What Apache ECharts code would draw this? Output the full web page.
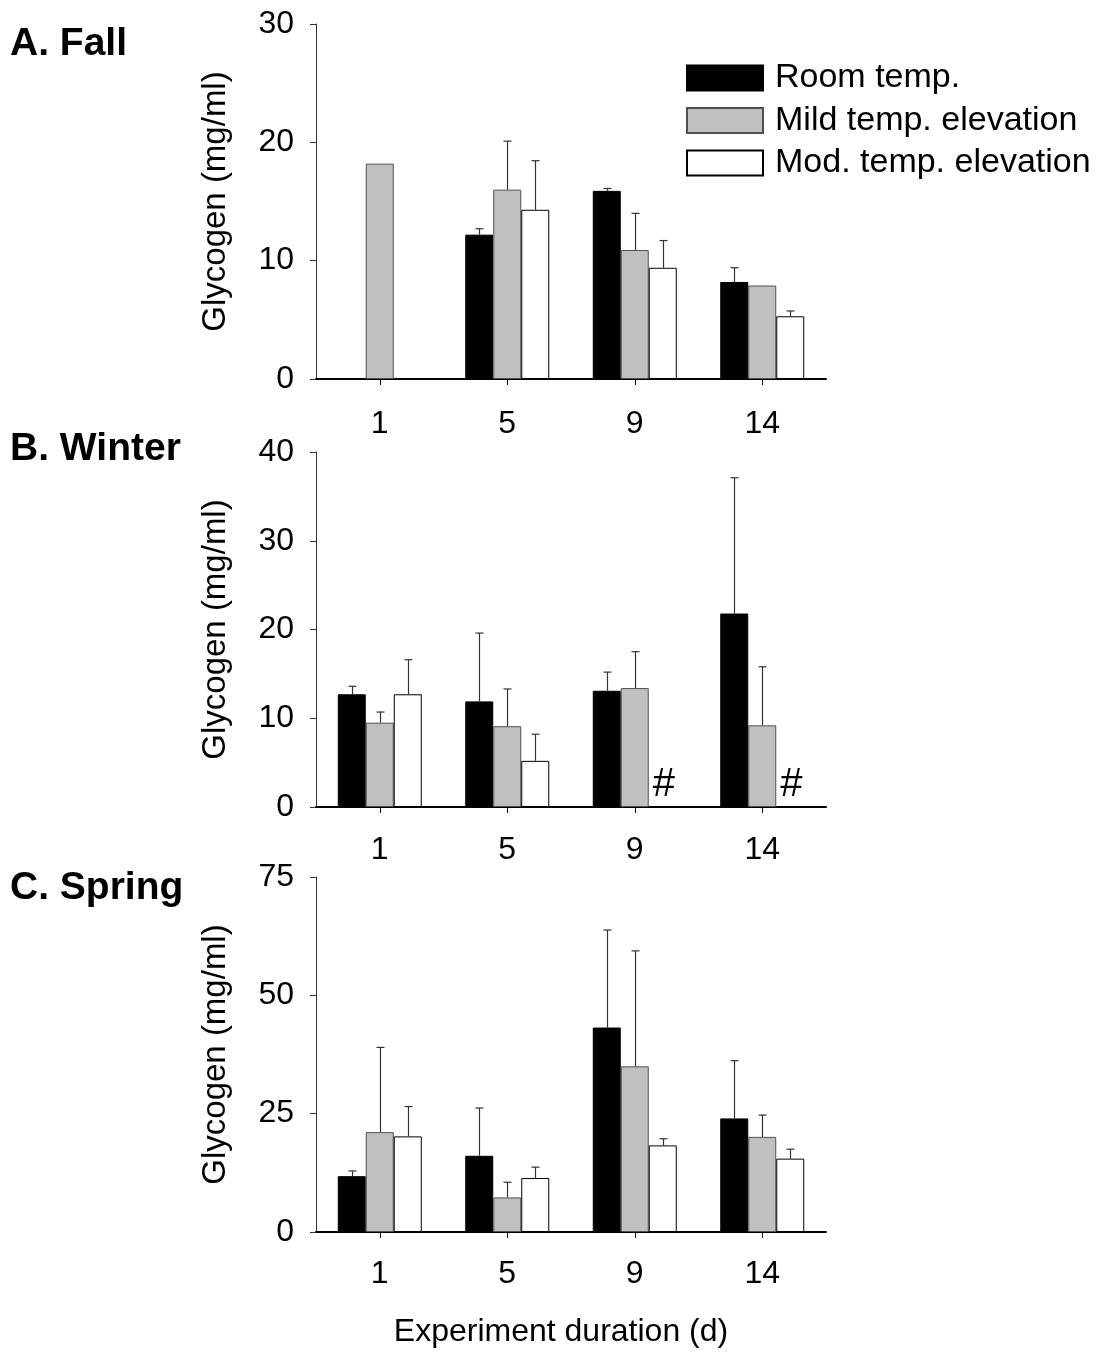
<!DOCTYPE html>
<html><head><meta charset="utf-8">
<script src="https://cdn.jsdelivr.net/npm/echarts@6/dist/echarts.min.js"></script>
<style>html,body{margin:0;padding:0;background:#fff}#c{width:1096px;height:1357px}</style>
</head><body><div id="c"></div>
<script>
// ---- data ----
const days = ['1', '5', '9', '14'];
const seriesNames = ['Room temp.', 'Mild temp. elevation', 'Mod. temp. elevation'];
const panelTitles = ['A. Fall', 'B. Winter', 'C. Spring'];

const fallRoom = [null, 12.2, 15.9, 8.2];
const fallRoomErr = [null, 0.5, 0.2, 1.2];
const fallMild = [18.2, 16.0, 10.9, 7.9];
const fallMildErr = [null, 4.1, 3.1, null];
const fallMod = [null, 14.3, 9.4, 5.3];
const fallModErr = [null, 4.15, 2.3, 0.45];

const winterRoom = [12.7, 11.9, 13.1, 21.8];
const winterRoomErr = [0.9, 7.7, 2.1, 15.3];
const winterMild = [9.5, 9.1, 13.4, 9.2];
const winterMildErr = [1.2, 4.2, 4.1, 6.6];
const winterMod = [12.7, 5.2, null, null];
const winterModErr = [3.9, 3.0, null, null];
const winterModMarks = ['', '', '#', '#'];

const springRoom = [11.8, 16.1, 43.2, 24.0];
const springRoomErr = [1.1, 10.1, 20.6, 12.2];
const springMild = [21.1, 7.3, 35.0, 20.1];
const springMildErr = [17.9, 3.2, 24.4, 4.6];
const springMod = [20.2, 11.4, 18.3, 15.5];
const springModErr = [6.3, 2.3, 1.4, 2.0];

const fallTicks = [0, 10, 20, 30];
const winterTicks = [0, 10, 20, 30, 40];
const springTicks = [0, 25, 50, 75];

// ---- layout / style ----
const FONT = '"Liberation Sans", Arial, Helvetica, sans-serif';
const BAR_W = 28;
const gridTops = [24, 452, 877];
const gridH = 355;
const panels = [
  {vals: [fallRoom, fallMild, fallMod], errs: [fallRoomErr, fallMildErr, fallModErr], ticks: fallTicks},
  {vals: [winterRoom, winterMild, winterMod], errs: [winterRoomErr, winterMildErr, winterModErr], ticks: winterTicks, marks: winterModMarks},
  {vals: [springRoom, springMild, springMod], errs: [springRoomErr, springMildErr, springModErr], ticks: springTicks}
];
const barStyles = [
  {color: '#000000', borderColor: '#000000', borderWidth: 1},
  {color: '#c0c0c0', borderColor: '#505050', borderWidth: 1},
  {color: '#ffffff', borderColor: '#000000', borderWidth: 1}
];

const grid = [], xAxis = [], yAxis = [], series = [];
panels.forEach((p, i) => {
  grid.push({left: 316, top: gridTops[i], width: 510, height: gridH, containLabel: false});
  xAxis.push({
    type: 'category', gridIndex: i, data: days,
    axisLine: {show: true, lineStyle: {color: '#000', width: 2}},
    axisTick: {show: true, alignWithLabel: true, length: 6, lineStyle: {color: '#000', width: 1}},
    axisLabel: {fontFamily: FONT, fontSize: 32, color: '#000', margin: i === 1 ? 27 : (i === 2 ? 26 : 29)},
    splitLine: {show: false}
  });
  const t = p.ticks;
  yAxis.push({
    type: 'value', gridIndex: i, min: t[0], max: t[t.length - 1], interval: t[1] - t[0],
    name: 'Glycogen (mg/ml)', nameLocation: 'middle', nameRotate: 90, nameGap: 84,
    nameTextStyle: {fontFamily: FONT, fontSize: 33, color: '#000'},
    axisLine: {show: true, lineStyle: {color: '#333', width: 1}},
    axisTick: {show: true, length: 6, lineStyle: {color: '#333', width: 1}},
    axisLabel: {fontFamily: FONT, fontSize: 32, color: '#000', margin: 22},
    splitLine: {show: false}
  });
  p.vals.forEach((v, j) => {
    series.push({
      type: 'bar', name: seriesNames[j], xAxisIndex: i, yAxisIndex: i,
      data: v, barWidth: BAR_W, barGap: '0%', itemStyle: barStyles[j],
      emphasis: {disabled: true}, animation: false
    });
  });
  p.vals.forEach((v, j) => {
    const e = p.errs[j];
    const d = [];
    v.forEach((val, k) => { if (val != null && e[k] != null) d.push([k, val, val + e[k]]); });
    const off = (j - 1) * BAR_W;
    series.push({
      type: 'custom', xAxisIndex: i, yAxisIndex: i, z: 5, animation: false, silent: true,
      data: d,
      renderItem: (params, api) => {
        const k = api.value(0);
        const lo = api.coord([k, api.value(1)]);
        const hi = api.coord([k, api.value(2)]);
        const x = Math.round(lo[0] + off) + 0.5;
        const st = {stroke: '#333', lineWidth: 1.2};
        return {type: 'group', children: [
          {type: 'line', shape: {x1: x, y1: lo[1], x2: x, y2: hi[1]}, style: st},
          {type: 'line', shape: {x1: x - 4, y1: hi[1], x2: x + 4, y2: hi[1]}, style: st}
        ]};
      }
    });
  });
  if (p.marks) {
    const d = [];
    p.marks.forEach((m, k) => { if (m) d.push([k, 0, m]); });
    series.push({
      type: 'custom', xAxisIndex: i, yAxisIndex: i, z: 6, animation: false, silent: true,
      data: d,
      renderItem: (params, api) => {
        const c = api.coord([api.value(0), 0]);
        return {type: 'text', x: c[0] + BAR_W + 1, y: c[1] - 2,
          style: {text: p.marks[api.value(0)], fontFamily: FONT, fontSize: 40, fill: '#000',
                  align: 'center', verticalAlign: 'bottom'}};
      }
    });
  }
});

const graphic = panelTitles.map((txt, i) => ({
  type: 'text', left: 10, top: [25, 430, 869][i],
  style: {text: txt, fontFamily: FONT, fontSize: 39, fontWeight: 'bold', fill: '#000'}
}));
graphic.push({
  type: 'text', x: 561, y: 1332,
  style: {text: 'Experiment duration (d)', fontFamily: FONT, fontSize: 32, fill: '#000',
          align: 'center', verticalAlign: 'middle'}
});

const chart = echarts.init(document.getElementById('c'), null, {renderer: 'canvas'});
chart.setOption({
  animation: false,
  backgroundColor: '#fff',
  grid, xAxis, yAxis, series, graphic,
  legend: {
    data: seriesNames, orient: 'vertical', left: 681, top: 56,
    icon: 'rect', itemWidth: 76, itemHeight: 25, itemGap: 8.5,
    selectedMode: false,
    textStyle: {fontFamily: FONT, fontSize: 34, color: '#000', padding: [0, 0, 0, 7], lineHeight: 33}
  }
});
</script>
</body></html>
